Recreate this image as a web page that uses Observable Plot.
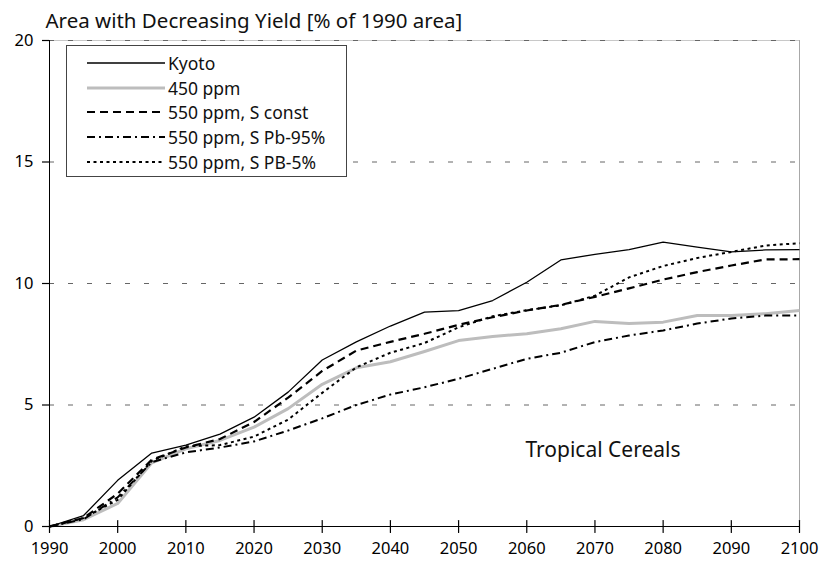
<!DOCTYPE html>
<html><head><meta charset="utf-8">
<script src="https://cdn.jsdelivr.net/npm/d3@7"></script>
<script src="https://cdn.jsdelivr.net/npm/@observablehq/plot@0.6"></script>
<style>
body{margin:0;background:#fff;font-family:"Noto Sans",sans-serif;}
#wrap{position:relative;width:822px;height:567px;overflow:hidden;}
#legend{position:absolute;left:66px;top:45px;width:279px;height:130px;border:1px solid #444;background:#fff;}
.row{position:absolute;left:0;height:20px;display:flex;align-items:center;white-space:nowrap;}
.row svg{margin-left:20px;}
.row span{margin-left:3px;font-size:17.5px;color:#111;line-height:20px;}
</style></head>
<body><div id="wrap"><div id="chart"></div><div id="legend"></div></div>
<script>
const years = [1990,1995,2000,2005,2010,2015,2020,2025,2030,2035,2040,2045,2050,2055,2060,2065,2070,2075,2080,2085,2090,2095,2100];
const kyoto   = [0,0.45,1.9,3.02,3.35,3.8,4.5,5.53,6.85,7.6,8.25,8.82,8.88,9.3,10.05,10.97,11.2,11.39,11.7,11.5,11.3,11.38,11.39];
const ppm450  = [0,0.28,0.95,2.62,3.2,3.54,4.09,4.85,5.85,6.53,6.78,7.2,7.65,7.82,7.93,8.14,8.44,8.35,8.41,8.68,8.68,8.76,8.89];
const sConst  = [0,0.35,1.35,2.75,3.25,3.6,4.3,5.3,6.4,7.24,7.6,7.93,8.3,8.61,8.89,9.12,9.45,9.8,10.16,10.47,10.74,10.99,11.0];
const sPb95   = [0,0.3,1.2,2.65,3.05,3.25,3.5,3.95,4.45,5.0,5.43,5.73,6.08,6.49,6.9,7.15,7.59,7.86,8.07,8.35,8.56,8.68,8.68];
const sPb5    = [0,0.35,1.1,2.7,3.3,3.35,3.7,4.4,5.5,6.55,7.15,7.55,8.2,8.65,8.9,9.1,9.5,10.25,10.72,11.05,11.3,11.56,11.66];
const seriesNames = ["Kyoto","450 ppm","550 ppm, S const","550 ppm, S Pb-95%","550 ppm, S PB-5%"];
const seriesValues = [kyoto, ppm450, sConst, sPb95, sPb5];
const xTicks = [1990,2000,2010,2020,2030,2040,2050,2060,2070,2080,2090,2100];
const yTicks = [0,5,10,15,20];
const gridTicks = [5,10,15,20];
const titleText = "Area with Decreasing Yield [% of 1990 area]";
const panelLabel = "Tropical Cereals";

const styles = {
  "Kyoto":            {stroke:"#000", width:1.3, dash:null},
  "450 ppm":          {stroke:"#bdbdbd", width:3, dash:null},
  "550 ppm, S const": {stroke:"#000", width:2.2, dash:"8,5"},
  "550 ppm, S Pb-95%":{stroke:"#000", width:2, dash:"8,4,2,4"},
  "550 ppm, S PB-5%": {stroke:"#000", width:2, dash:"3,3.5"}
};

const rows = [];
seriesNames.forEach((name, i) => {
  years.forEach((yr, j) => rows.push({series:name, year:yr, value:seriesValues[i][j]}));
});

const drawOrder = ["450 ppm","Kyoto","550 ppm, S Pb-95%","550 ppm, S PB-5%","550 ppm, S const"];
const lineMarks = drawOrder.map(name => Plot.line(rows.filter(r => r.series === name), {
  x:"year", y:"value", stroke:styles[name].stroke, strokeWidth:styles[name].width,
  strokeDasharray:styles[name].dash, strokeLinejoin:"round", strokeLinecap:"butt"
}));

// straight tick segment for the vector mark (x ticks cross the axis)
const tickShape = {draw(context, l) { context.moveTo(0, 0); context.lineTo(0, -l); }};

const chart = Plot.plot({
  width:822, height:567,
  marginLeft:49, marginRight:23, marginTop:40, marginBottom:41,
  x:{domain:[1990,2100]},
  y:{domain:[0,20]},
  style:{fontFamily:"'Noto Sans', sans-serif", fontSize:"16.5px", color:"#000", background:"#fff"},
  marks:[
    Plot.ruleY([20], {stroke:"#c8c8c8"}),
    Plot.ruleX([2100], {stroke:"#a8a8a8"}),
    Plot.gridY(gridTicks, {stroke:"#666", strokeOpacity:1, strokeDasharray:"5,14"}),
    ...lineMarks,
    Plot.ruleY([0], {stroke:"#000"}),
    Plot.ruleX([1990], {stroke:"#000"}),
    Plot.vector(xTicks, {x:d => d, y:() => yTicks[0], length:12, rotate:0, anchor:"middle", shape:tickShape, stroke:"#000", strokeWidth:1.2}),
    Plot.axisY(yTicks, {tickSize:7, tickPadding:9, label:null, stroke:"#000", strokeWidth:1.2, tickFormat:d => String(d)}),
    Plot.axisX(xTicks, {tickSize:0, tickPadding:16, label:null, tickFormat:d => String(d)}),
    Plot.text([titleText], {frameAnchor:"top-left", dx:-4, dy:-13, textAnchor:"start", lineAnchor:"bottom", fontSize:20.5, fill:"#111"}),
    Plot.text([panelLabel], {x:() => 2059.8, y:() => 2.84, textAnchor:"start", lineAnchor:"bottom", fontSize:21, fill:"#111"})
  ]
});
document.getElementById("chart").appendChild(chart);

const legend = document.getElementById("legend");
const rowCenters = [17, 42, 66, 91, 116];
seriesNames.forEach((name, i) => {
  const st = styles[name];
  const row = document.createElement("div");
  row.className = "row";
  row.style.top = (rowCenters[i] - 10) + "px";
  row.innerHTML = `<svg width="78" height="20"><line x1="0" x2="78" y1="10" y2="10" stroke="${st.stroke}" stroke-width="${st.width}" ${st.dash ? `stroke-dasharray="${st.dash}"` : ""}/></svg><span>${name}</span>`;
  legend.appendChild(row);
});
</script></body></html>
